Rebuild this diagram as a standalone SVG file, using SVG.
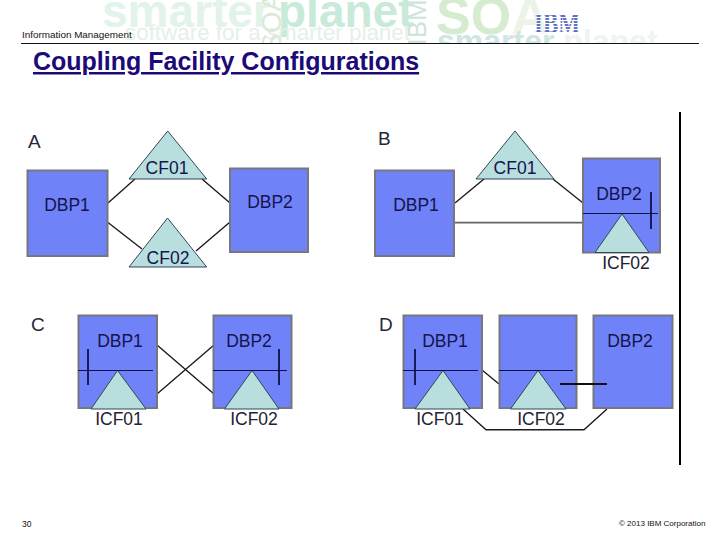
<svg xmlns="http://www.w3.org/2000/svg" width="720" height="540" viewBox="0 0 720 540">
<style>
text{font-family:"Liberation Sans",Arial,sans-serif}
.box{fill:#7082f8;stroke:#77777f;stroke-width:2}
.tri{fill:#b8dede;stroke:#33475a;stroke-width:1}
.lbl{font-size:17.5px;fill:#14144e;text-anchor:middle}
.ext{font-size:17.5px;fill:#222230;text-anchor:middle}
.let{font-size:19px;fill:#26263a}
.wire{stroke:#1c1c1c;stroke-width:1.4;fill:none}
.thin{stroke:#10104a;stroke-width:1;fill:none}
.bar{stroke:#10104a;stroke-width:1.8;fill:none}
.small{font-size:9.9px;fill:#111}
.wm{font-weight:bold}
</style>
<defs>
<clipPath id="hc"><rect x="0" y="0" width="720" height="43"/></clipPath>
<pattern id="st" width="4" height="3" patternUnits="userSpaceOnUse"><rect width="4" height="2" fill="#6072c4"/><rect y="2" width="4" height="1" fill="#ffffff"/></pattern>
</defs>
<rect width="720" height="540" fill="#fff"/>
<g id="watermark" clip-path="url(#hc)">
<text class="wm" x="102" y="27" font-size="46" fill="#e2f3e9">smarter</text>
<text class="wm" x="278" y="27" font-size="46" fill="#c8ead8">planet</text>
<text x="125" y="40" font-size="22.400" fill="#e6f0e8">software for a smarter planet</text>
<text transform="translate(281,52) rotate(-90)" font-size="28" fill="#dbe9d6">SOA</text>
<text transform="translate(426,45.500) rotate(-90)" font-size="26" fill="#cfe4d6">IBM</text>
<text class="wm" x="436" y="34" font-size="52" fill="#d6ecd0">SO<tspan fill="#ebf4e7">A</tspan></text>
<text class="wm" x="437" y="52" font-size="32" fill="#cfe6e4">smarter <tspan fill="#eef4f1">planet</tspan></text>
</g>
<g id="header">
<text class="small" x="22" y="38">Information Management</text>
<line x1="21" y1="43.500" x2="699" y2="43.500" stroke="#111" stroke-width="1.200"/>
<text x="33" y="70" font-size="25" font-weight="bold" fill="#1c0a78" text-decoration="underline">Coupling Facility Configurations</text>
<text id="ibm" x="534" y="33" font-size="30" font-weight="bold" fill="url(#st)" textLength="46" lengthAdjust="spacingAndGlyphs" style="font-family:'Liberation Serif',serif">IBM</text>
</g>
<g id="connectors">
<path class="wire" d="M108 203L135 179M202 179L230 203M108 222.500L142 249M230 222L196 251"/>
<path class="wire" d="M455 203L484 179M553 179L583 203"/>
<line x1="455" y1="222.700" x2="583" y2="222.700" stroke="#666" stroke-width="1.800"/>
<path class="wire" d="M157 345L214 394M157 394L214 345"/>
<path class="wire" d="M482 370L499 384M463 409L486 429.700L584 429.700L607 409"/>
</g>
<text class="let" x="28" y="148">A</text>
<text class="let" x="378" y="145">B</text>
<text class="let" x="31" y="331">C</text>
<text class="let" x="379" y="331">D</text>
<g id="a-dbp1"><rect class="box" x="27.500" y="170.500" width="80" height="85.500"/><text class="lbl" x="67" y="211">DBP1</text></g>
<g id="a-dbp2"><rect class="box" x="230" y="168.500" width="78" height="83.500"/><text class="lbl" x="270" y="208">DBP2</text></g>
<g id="a-cf01"><path class="tri" d="M167.700 131L206.700 179H129Z"/><text class="lbl" x="167" y="174">CF01</text></g>
<g id="a-cf02"><path class="tri" d="M167.500 218L206.700 267H129Z"/><text class="lbl" x="168" y="264">CF02</text></g>
<g id="b-dbp1"><rect class="box" x="375" y="170.500" width="79" height="85.500"/><text class="lbl" x="416" y="211">DBP1</text></g>
<g id="b-cf01"><path class="tri" d="M515 131L554 179H476Z"/><text class="lbl" x="515" y="174">CF01</text></g>
<g id="b-dbp2"><rect class="box" x="583" y="158.500" width="77" height="94"/><text class="lbl" x="619" y="200">DBP2</text>
<path class="tri" d="M622 214L649 252.500H595Z"/><line class="thin" x1="583" y1="213.500" x2="658" y2="213.500"/><line class="bar" x1="651" y1="192" x2="651" y2="229"/><text class="ext" x="626" y="269">ICF02</text></g>
<g id="c-dbp1"><rect class="box" x="78.500" y="315.500" width="78.500" height="92.500"/><text class="lbl" x="120" y="347">DBP1</text>
<path class="tri" d="M117.500 370.500L146 409H91Z"/><line class="thin" x1="78" y1="370.500" x2="153" y2="370.500"/><line class="bar" x1="88" y1="349" x2="88" y2="385"/><text class="ext" x="119" y="425">ICF01</text></g>
<g id="c-dbp2"><rect class="box" x="213.500" y="315.500" width="78" height="92.500"/><text class="lbl" x="249" y="347">DBP2</text>
<path class="tri" d="M252 370.500L279 409H224.500Z"/><line class="thin" x1="213" y1="370.500" x2="287" y2="370.500"/><line class="bar" x1="279" y1="349" x2="279" y2="385"/><text class="ext" x="254" y="425">ICF02</text></g>
<g id="d-dbp1"><rect class="box" x="403.500" y="315.500" width="78.500" height="92.500"/><text class="lbl" x="445" y="347">DBP1</text>
<path class="tri" d="M443 370.500L470 409H415Z"/><line class="thin" x1="403" y1="370.500" x2="478" y2="370.500"/><line class="bar" x1="415" y1="349" x2="415" y2="385"/><text class="ext" x="440" y="425">ICF01</text></g>
<g id="d-mid"><rect class="box" x="499.500" y="315.500" width="77" height="92.500"/>
<path class="tri" d="M538 370.500L566 409H510.500Z"/><line class="thin" x1="499" y1="370.500" x2="573" y2="370.500"/><text class="ext" x="541" y="425">ICF02</text></g>
<g id="d-dbp2"><rect class="box" x="593.500" y="315.500" width="79" height="92.500"/><text class="lbl" x="630" y="347">DBP2</text></g>
<line x1="560" y1="384" x2="607" y2="384" stroke="#111" stroke-width="1.800"/>
<line x1="680" y1="112" x2="680" y2="465" stroke="#000" stroke-width="2"/>
<g id="footer">
<text class="small" x="22" y="527" style="font-size:8.500px">30</text>
<text class="small" x="619" y="525.500" style="font-size:8px">© 2013 IBM Corporation</text>
</g>
</svg>
